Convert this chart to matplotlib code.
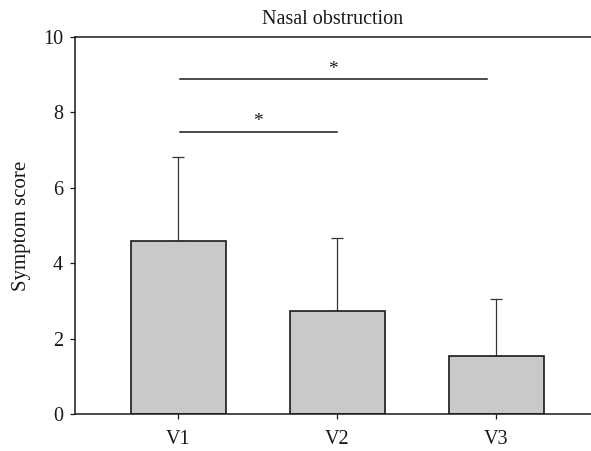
import matplotlib
matplotlib.use("Agg")
import matplotlib.pyplot as plt
import numpy as np

categories = ["V1", "V2", "V3"]
means = [4.60, 2.73, 1.54]
upper_err = [2.22, 1.95, 1.52]
sig_pairs = [(0, 1.0, 7.49), (0, 1.94, 8.88)]
yticks = [0, 2, 4, 6, 8, 10]

plt.rcParams['font.family'] = ['Liberation Serif', 'DejaVu Serif']

fig = plt.figure(figsize=(5.91, 4.51), dpi=100)
ax = fig.add_axes([75/591, 37/451, 1 - 75/591, (414-37)/451])

x = np.arange(len(categories))
ax.bar(x, means, width=0.6, color="#c8c9cb", edgecolor="#1a1a1a", linewidth=1.2, zorder=2)
ax.errorbar(x, means, yerr=[np.zeros(len(means)), upper_err], fmt='none',
            ecolor="#333333", elinewidth=0.9, capsize=4, capthick=0.9, zorder=1)

for x0, x1, y in sig_pairs:
    ax.plot([x0 + 0.01, x1], [y, y], color="#1a1a1a", linewidth=1.1)
    ax.text((x0 + x1) / 2, y + 0.03, "*", ha="center", va="bottom", fontsize=14, color="#1a1a1a")

ax.set_xlim(-0.65, 2.595)
ax.set_ylim(0, 10)
ax.set_xticks(x)
ax.set_xticklabels(categories)
ax.set_yticks(yticks)
ax.tick_params(axis='both', direction='out', length=3.5, width=0.9, labelsize=14.5, colors="#1a1a1a")
ax.tick_params(axis='x', pad=8)
ax.tick_params(axis='y', pad=5)
ax.set_ylabel("Symptom score", fontsize=15, color="#1a1a1a", labelpad=9)
ax.set_title("Nasal obstruction", fontsize=14.5, color="#1a1a1a", pad=9)

for s in ["left", "bottom", "top"]:
    ax.spines[s].set_linewidth(1.1)
    ax.spines[s].set_color("#1a1a1a")
ax.spines["right"].set_visible(False)

fig.savefig("out.png", dpi=100)
